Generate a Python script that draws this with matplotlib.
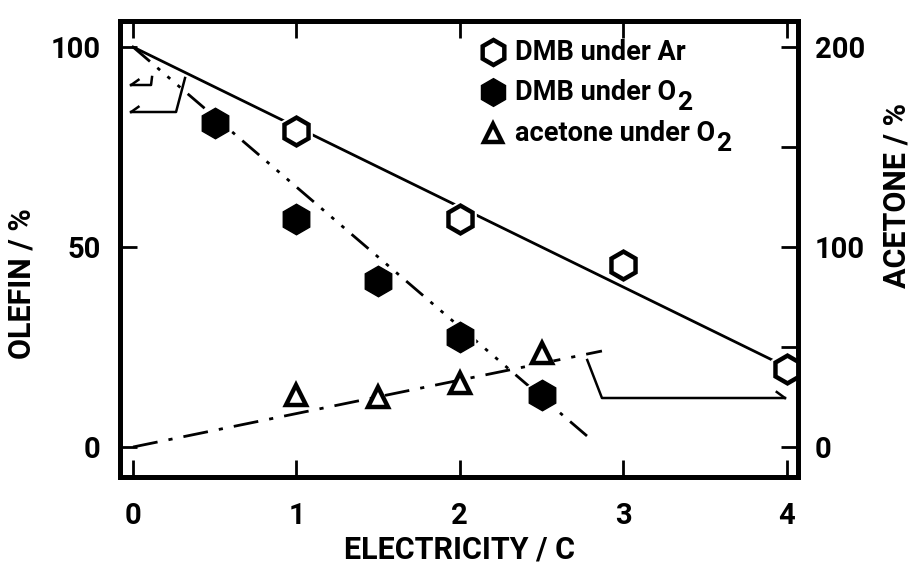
import matplotlib
matplotlib.use("Agg")
import matplotlib.pyplot as plt

plt.rcParams['font.family'] = ['Roboto', 'DejaVu Sans']
plt.rcParams['font.weight'] = 'bold'
plt.rcParams['axes.labelweight'] = 'bold'

# ---- data ----
elec_ar = [1, 2, 3, 4]
olefin_ar = [79, 57, 45.5, 19.5]
elec_o2 = [0.5, 1, 1.5, 2, 2.5]
olefin_o2 = [81, 57, 41.5, 27.5, 13]
elec_ac = [1, 1.5, 2, 2.5]
acetone_o2 = [26, 25, 32, 47]

fit_ar_x = [0, 4]
fit_ar_y = [100, 20]
fit_o2_x = [0, 2.82]
fit_o2_y = [100, 1.3]
fit_ac_x = [0, 2.87]
fit_ac_y = [0, 48]

# annotation brackets (data units)
brk_small_x = [0.116, 0.11, -0.012]
brk_small_y = [92.5, 90.5, 90.5]
brk_big_x = [0.318, 0.263, -0.012]
brk_big_y = [92.25, 83.75, 83.75]
brk_ac_x = [2.78, 2.87, 3.99]
brk_ac_y = [43.5, 24.5, 24.5]

x_ticks = [0, 1, 2, 3, 4]
left_ticks = [0, 50, 100]
right_ticks = [0, 100, 200]
right_minor = [50, 150]

fig = plt.figure(figsize=(9.12, 5.67), dpi=100)
ax = fig.add_axes([120/912, (567-477)/567, 678/912, 456/567])
ax.set_xlim(-0.08, 4.07)
ax.set_ylim(-7.5, 106.5)
ax2 = ax.twinx()
ax2.set_ylim(-15, 213)

# fitted lines
ax.plot(fit_ar_x, fit_ar_y, color='black', lw=2.0, zorder=2)
ax.plot(fit_o2_x, fit_o2_y, color='black', lw=2.0, zorder=2,
        dashes=(8, 3.5, 1.3, 3.5, 1.3, 3.5, 1.3, 3.5))
ax2.plot(fit_ac_x, fit_ac_y, color='black', lw=2.0, zorder=2,
         dashes=(9, 4, 1.5, 4))

# brackets
for bx, by in [(brk_small_x, brk_small_y), (brk_big_x, brk_big_y)]:
    ax.plot(bx, by, color='black', lw=1.8, zorder=2)
    ax.plot([bx[-1], bx[-1] + 0.045], [by[-1], by[-1] + 1.3], color='black', lw=1.8)
ax2.plot(brk_ac_x, brk_ac_y, color='black', lw=1.8, zorder=2)
ax2.plot([brk_ac_x[-1], brk_ac_x[-1] - 0.05], [brk_ac_y[-1], brk_ac_y[-1] + 3],
         color='black', lw=1.8)

# markers (white halo to break the lines)
ax.plot(elec_ar, olefin_ar, ls='none', marker='h', ms=26, mfc='white', mec='white', zorder=3)
ax.plot(elec_ar, olefin_ar, ls='none', marker='h', ms=20, mfc='white', mec='black', mew=3.2, zorder=4)
ax.plot(elec_o2, olefin_o2, ls='none', marker='h', ms=25, mfc='white', mec='white', zorder=3)
ax.plot(elec_o2, olefin_o2, ls='none', marker='h', ms=22, mfc='black', mec='black', mew=1, zorder=4)
ax2.plot(elec_ac, acetone_o2, ls='none', marker='^', ms=19, mfc='white', mec='white', zorder=3)
ax2.plot(elec_ac, acetone_o2, ls='none', marker='^', ms=14, mfc='white', mec='black', mew=3.2, zorder=4)

# legend (manual)
leg_rows = [0.932, 0.844, 0.754]
leg_labels = ['DMB under Ar', 'DMB under O', 'acetone under O']
leg_subs = ['', '2', '2']
leg_styles = [dict(marker='h', ms=18, mfc='white', mec='black', mew=3.2),
              dict(marker='h', ms=20, mfc='black', mec='black', mew=1),
              dict(marker='^', ms=13, mfc='white', mec='black', mew=3.2)]
for yy, lab, sub, st in zip(leg_rows, leg_labels, leg_subs, leg_styles):
    ax.plot([0.55], [yy], ls='none', transform=ax.transAxes, clip_on=False, zorder=5, **st)
    t = ax.text(0.583, yy, lab, transform=ax.transAxes, fontsize=19.5, va='center', ha='left')
    if sub:
        ax.annotate(sub, xy=(1.0, 0.0), xycoords=t, xytext=(0.5, -7),
                    textcoords='offset points', fontsize=19, va='bottom', ha='left')

# axes styling
for a in (ax, ax2):
    for s in a.spines.values():
        s.set_linewidth(3.5)
ax.set_xticks(x_ticks)
ax.set_xticklabels([str(v) for v in x_ticks])
ax.set_yticks(left_ticks)
ax.set_yticklabels([str(v) for v in left_ticks])
ax.tick_params(axis='both', direction='in', length=12, width=2, labelsize=21, top=True)
ax.tick_params(axis='x', pad=18)
ax.tick_params(axis='y', pad=14)
ax2.set_yticks(right_ticks)
ax2.set_yticklabels([str(v) for v in right_ticks])
ax2.set_yticks(right_minor, minor=True)
ax2.tick_params(axis='y', which='major', direction='in', length=12, width=2, labelsize=21, pad=12)
ax2.tick_params(axis='y', which='minor', direction='in', length=12, width=2)

ax.set_xlabel('ELECTRICITY / C', fontsize=22)
ax.xaxis.set_label_coords(0.501, -0.16)
ax.set_ylabel('OLEFIN / %', fontsize=22)
ax.yaxis.set_label_coords(-0.145, 0.425)
ax2.set_ylabel('ACETONE / %', fontsize=22, rotation=90)
ax2.yaxis.set_label_coords(1.146, 0.618)
ax2.yaxis.label.set_va('center')
ax.yaxis.label.set_va('center')
ax.xaxis.label.set_va('center')

fig.savefig('out.png', dpi=100)
